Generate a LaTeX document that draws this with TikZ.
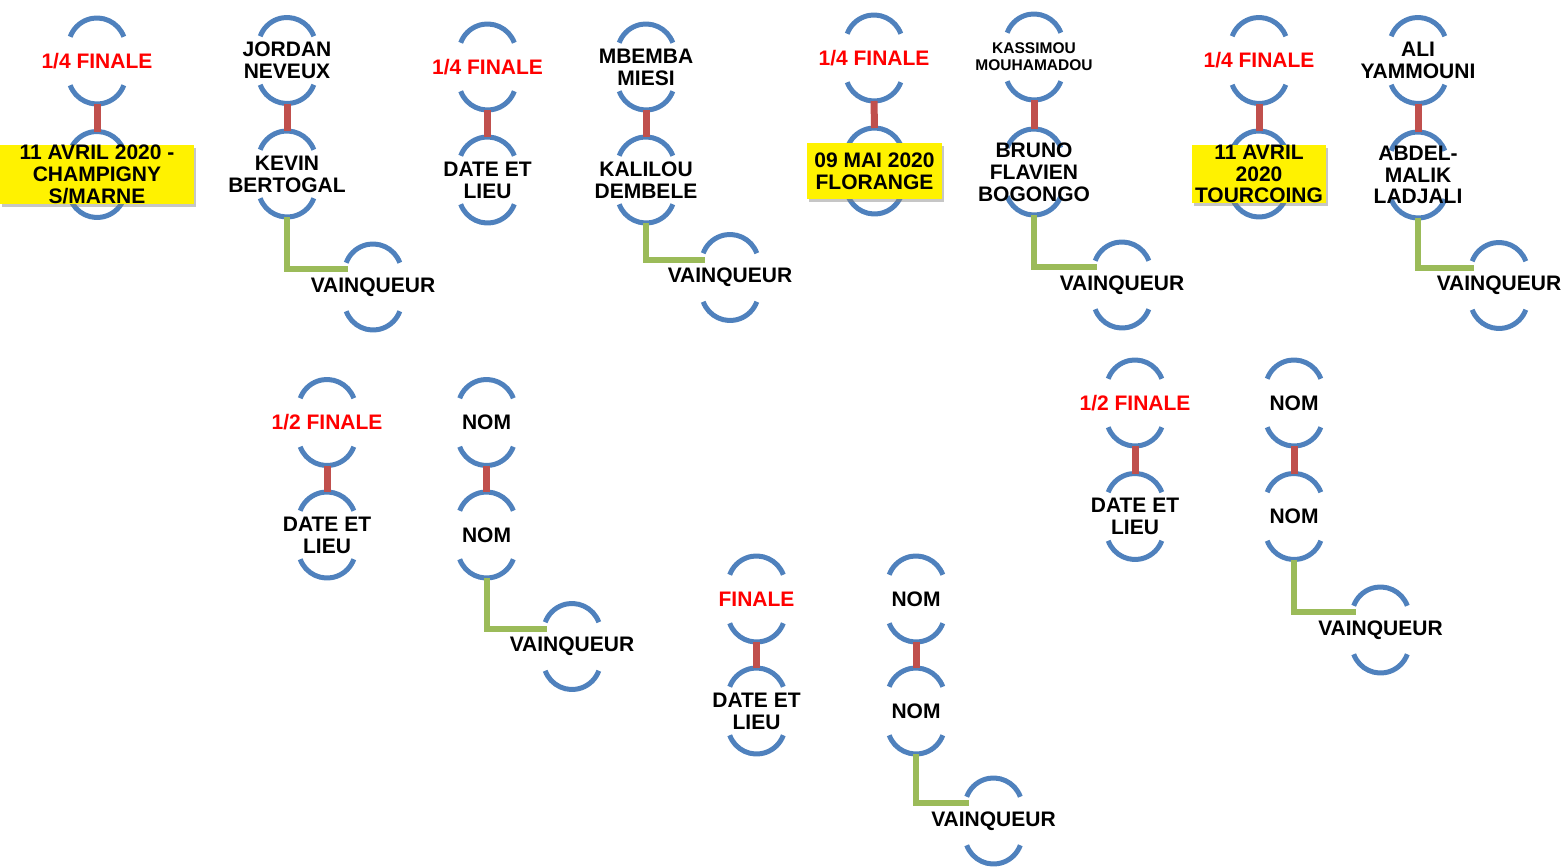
\documentclass[tikz,border=0pt]{standalone}
\usepackage{fontspec}
\setmainfont{Liberation Sans}
\usetikzlibrary{backgrounds,shadows}
\definecolor{arcblue}{RGB}{79,129,189}
\definecolor{linkred}{RGB}{192,80,77}
\definecolor{linkgreen}{RGB}{155,187,89}
\tikzset{
  lbl/.style={align=center,inner sep=0pt,font=\bfseries\fontsize{21}{21.8}\selectfont},
  lbl round/.style={lbl,text=red},
  lbl small/.style={lbl,font=\bfseries\fontsize{15.5}{17}\selectfont},
  lbl date/.style={lbl,fill=yellow,minimum height=56,
    drop shadow={shadow xshift=2pt,shadow yshift=-3pt,opacity=.45}},
  half arc/.style={arcblue,line width=5},
  link red/.style={linkred,line width=7},
  link green/.style={linkgreen,line width=6}
}

\begin{document}
\begin{tikzpicture}[x=1pt,y=1pt]
\useasboundingbox (0,0) rectangle (1563,-867);
% quarter finals
\node[lbl round] (A1) at (97,-61) {1/4 FINALE};
\node[lbl date,minimum width=194] (A2) at (97,-174.5) {11 AVRIL 2020 -\\CHAMPIGNY\\S/MARNE};
\node[lbl] (A3) at (287,-60.5) {JORDAN\\NEVEUX};
\node[lbl] (A4) at (287,-174) {KEVIN\\BERTOGAL};
\node[lbl] (A5) at (373,-287) {VAINQUEUR};
\node[lbl round] (B1) at (487.5,-67) {1/4 FINALE};
\node[lbl] (B2) at (487.5,-180) {DATE ET\\LIEU};
\node[lbl] (B3) at (646,-67) {MBEMBA\\MIESI};
\node[lbl] (B4) at (646,-180) {KALILOU\\DEMBELE};
\node[lbl] (B5) at (730,-277.5) {VAINQUEUR};
\node[lbl round] (C1) at (874,-58) {1/4 FINALE};
\node[lbl date,minimum width=135] (C2) at (874.5,-171) {09 MAI 2020\\FLORANGE};
\node[lbl small] (C3) at (1034,-57) {KASSIMOU\\MOUHAMADOU};
\node[lbl] (C4) at (1034,-172) {BRUNO\\FLAVIEN\\BOGONGO};
\node[lbl] (C5) at (1122,-285) {VAINQUEUR};
\node[lbl round] (D1) at (1259,-60.5) {1/4 FINALE};
\node[lbl date,minimum width=134] (D2) at (1259,-174) {11 AVRIL\\2020\\TOURCOING};
\node[lbl] (D3) at (1418,-60.5) {ALI\\YAMMOUNI};
\node[lbl] (D4) at (1418,-175) {ABDEL-\\MALIK\\LADJALI};
\node[lbl] (D5) at (1499,-285.5) {VAINQUEUR};
% semi finals
\node[lbl round] (E1) at (327,-422.5) {1/2 FINALE};
\node[lbl] (E2) at (327,-535) {DATE ET\\LIEU};
\node[lbl] (E3) at (486.5,-422.5) {NOM};
\node[lbl] (E4) at (486.5,-535) {NOM};
\node[lbl] (E5) at (572,-646.5) {VAINQUEUR};
\node[lbl round] (F1) at (1135,-403) {1/2 FINALE};
\node[lbl] (F2) at (1135,-516.5) {DATE ET\\LIEU};
\node[lbl] (F3) at (1294,-403) {NOM};
\node[lbl] (F4) at (1294,-516.5) {NOM};
\node[lbl] (F5) at (1380.5,-630) {VAINQUEUR};
% final
\node[lbl round] (G1) at (756.5,-599) {FINALE};
\node[lbl] (G2) at (756.5,-711) {DATE ET\\LIEU};
\node[lbl] (G3) at (916,-599) {NOM};
\node[lbl] (G4) at (916,-711) {NOM};
\node[lbl] (G5) at (993.5,-821) {VAINQUEUR};
\begin{scope}[on background layer]
\foreach \g in {A,...,G}
  \foreach \i in {1,...,5} {
    \draw[half arc] ([yshift=14.5]\g\i.center) ++(20:28.5) arc[start angle=20,end angle=160,radius=28.5];
    \draw[half arc] ([yshift=-14.5]\g\i.center) ++(200:28.5) arc[start angle=200,end angle=340,radius=28.5];
    \coordinate (\g\i-t) at ([yshift=43]\g\i.center);
    \coordinate (\g\i-b) at ([yshift=-43]\g\i.center);
    \coordinate (\g\i-in) at ([shift={(-25,18)}]\g\i.center);
  }
\foreach \g in {A,...,G} {
  \draw[link red] (\g1-b) -- (\g2-t);
  \draw[link red] (\g3-b) -- (\g4-t);
  \draw[link green] (\g4-b) |- (\g5-in);
}
\end{scope}
\end{tikzpicture}
\end{document}
